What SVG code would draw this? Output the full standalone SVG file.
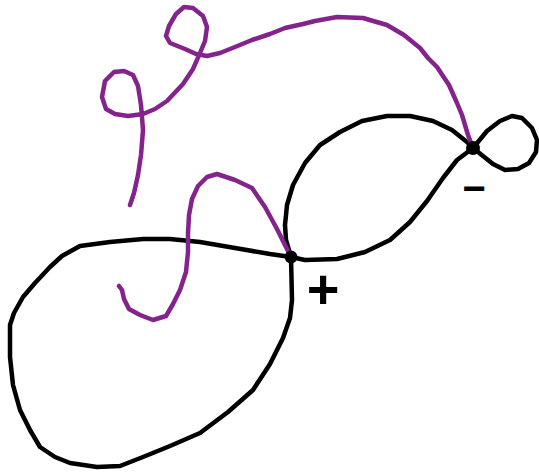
<svg xmlns="http://www.w3.org/2000/svg" width="539" height="473" viewBox="0 0 539 473">
<style>
.k{fill:none;stroke:#000;stroke-width:4.5;stroke-linecap:round;stroke-linejoin:round}
.p{fill:none;stroke:#84238c;stroke-width:4.5;stroke-linecap:round;stroke-linejoin:round}
.dot{fill:#000}
.lbl{font-family:"Liberation Sans",Arial,sans-serif;font-weight:bold;fill:#000}
</style>
<rect width="539" height="473" fill="#fff"/>
<g id="connectors">
<path class="k" d="M291,257 L270,254 L235,248 L200,242 L170,239 L143,239 L110,242 L80,246 L62,256 L50,267 L35,283 L23,297 L14,313 L10,325 L10,357 L13,385 L20,410 L30,430 L40,447 L55,457 L70,463 L97,467 L120,466 L143,457 L170,446 L200,433 L228,412 L253,390 L270,364 L283,338 L290,318 L292,300 L291,257"/>
<path class="k" d="M291,257 L286,240 L285,225 L287,205 L293,185 L305,163 L320,145 L340,132 L362,121 L387,116 L410,116 L433,121 L452,130 L467,142 L473,148"/>
<path class="k" d="M291,257 L305,260 L337,259 L365,252 L390,240 L410,222 L427,201 L443,178 L457,160 L473,148"/>
<path class="k" d="M473,148 L487,131 L500,121 L512,116 L522,118 L532,128 L537,140 L536,152 L529,163 L518,169 L505,170 L493,164 L483,156 L473,148"/>
<path class="p" d="M291,257 L284,243 L277,229 L265,207 L252,188 L235,180 L217,174 L207,177 L198,186 L192,199 L189,215 L188,233 L188,252 L186,272 L180,290 L173,304 L166,316 L153,320 L140,315 L129,309 L124,299 L122,290 L119,286"/>
<path class="p" d="M473,148 L468,135 L462,115 L457,103 L449,85 L437,67 L428,58 L420,48 L404,35 L387,25 L363,18 L337,17 L315,21 L303,24 L285,28 L270,34 L252,40 L235,47 L220,53 L207,56 L196,54 L185,49 L170,43 L166,36 L169,26 L176,14 L184,7 L193,8 L203,16 L207,27 L205,41 L200,53 L193,69 L183,84 L167,101 L155,109 L143,114 L128,116 L115,114 L106,109 L102,97 L105,81 L114,72 L124,71 L133,75 L138,86 L141,105 L143,130 L141,155 L138,175 L134,193 L130,205"/>
</g>
<g id="node-plus">
<circle class="dot" cx="291" cy="257" r="6.5"/>
<text class="lbl" x="323" y="308" font-size="56" text-anchor="middle">+</text>
</g>
<g id="node-minus">
<circle class="dot" cx="473" cy="148" r="7"/>
<text class="lbl" x="474" y="202" font-size="40" text-anchor="middle">−</text>
</g>
</svg>
